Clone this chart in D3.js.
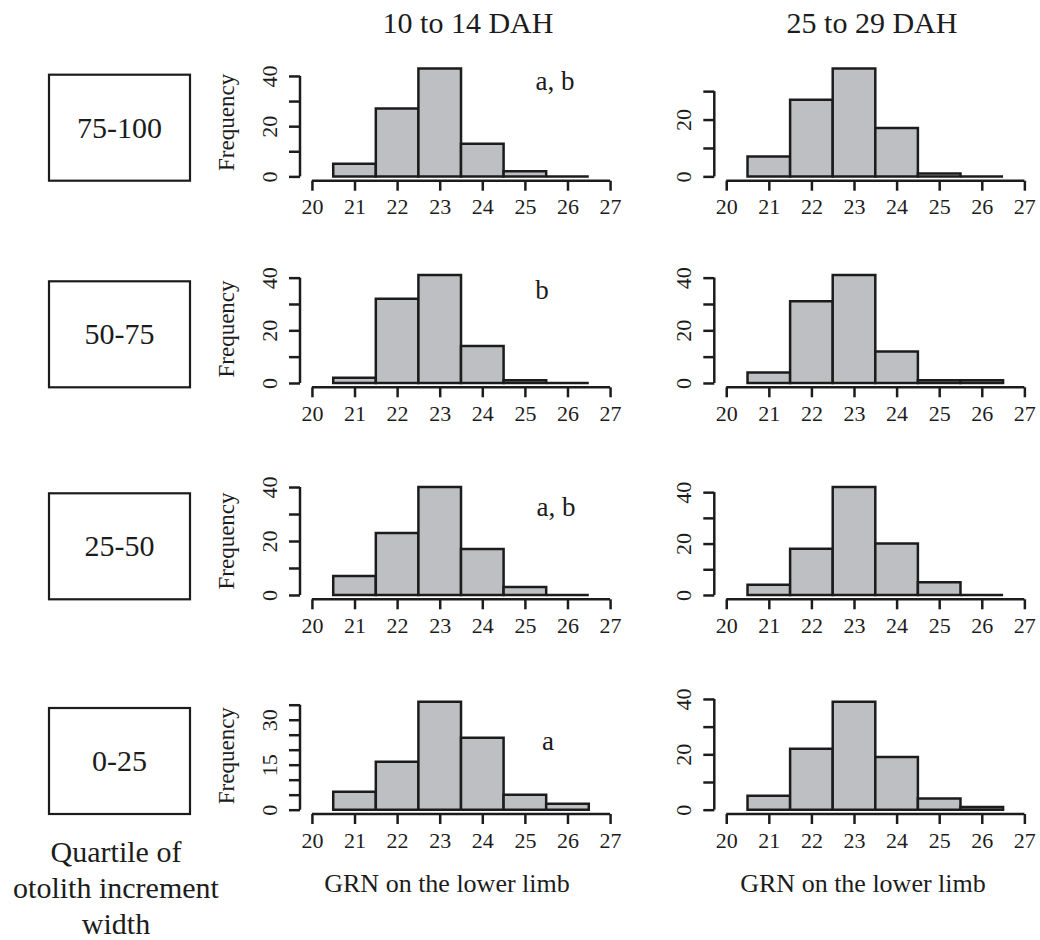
<!DOCTYPE html>
<html>
<head>
<meta charset="utf-8">
<script src="https://cdn.jsdelivr.net/npm/d3@7"></script>
<style>
body { margin: 0; background: #fff; }
svg { font-family: "Liberation Serif", "Times New Roman", serif; }
</style>
</head>
<body>
<svg id="chart" width="1040" height="940"></svg>
<script>
// histogram breaks and counts
var breaks = [20.5, 21.5, 22.5, 23.5, 24.5, 25.5, 26.5];
var quartiles = ["75-100", "50-75", "25-50", "0-25"];
var periods = ["10 to 14 DAH", "25 to 29 DAH"];
var early = [
    [5, 27, 43, 13, 2, 0],
    [2, 32, 41, 14, 1, 0],
    [7, 23, 40, 17, 3, 0],
    [6, 16, 36, 24, 5, 2]
];
var late = [
    [7, 27, 38, 17, 1, 0],
    [4, 31, 41, 12, 1, 1],
    [4, 18, 42, 20, 5, 0],
    [5, 22, 39, 19, 4, 1]
];
var letters = ["a, b", "b", "a, b", "a"];
var xTicks = [20, 21, 22, 23, 24, 25, 26, 27];
var earlyTickStep = [10, 10, 10, 5];
var earlyLabels = [[0, 20, 40], [0, 20, 40], [0, 20, 40], [0, 15, 30]];
var lateTickStep = [10, 10, 10, 10];
var lateLabels = [[0, 20], [0, 20, 40], [0, 20, 40], [0, 20, 40]];

// layout
var rowAxisY = [180.7, 387.3, 599.3, 814];
var colLeft = [300, 714.3];
var plotW = 322, plotH = 116.6;
var letterDy = [-90.7, -88.3, -83.6, -64];
var letterX = [555, 542, 556, 548];
var ink = "#1c1c1c";

var svg = d3.select("#chart");

function panel(g, counts, axisY, x0, tickStep, labels) {
    var M = d3.max(counts);
    var x = d3.scaleLinear().domain([19.72, 27.28]).range([x0, x0 + plotW]);
    var y = d3.scaleLinear().domain([-0.04 * M, 1.04 * M]).range([axisY, axisY - plotH]);

    var bins = counts.map(function (c, i) {
        return {x0: breaks[i], x1: breaks[i + 1], n: c};
    });

    g.selectAll("path.bar")
        .data(bins)
        .enter()
        .append("path")
        .attr("class", "bar")
        .attr("d", function (d) {
            return "M" + x(d.x0) + "," + y(0) + "V" + y(d.n) + "H" + x(d.x1) + "V" + y(0) + "Z";
        })
        .attr("fill", "#bebfc2")
        .attr("stroke", ink)
        .attr("stroke-width", 2.5)
        .attr("stroke-linejoin", "miter");

    // x axis
    var xa = g.append("g")
        .attr("transform", "translate(0," + axisY + ")")
        .call(d3.axisBottom(x).tickValues(xTicks).tickSize(10).tickPadding(8).tickSizeOuter(0));
    xa.select(".domain").attr("d", "M" + x(20) + ",0H" + x(27)).attr("stroke", ink).attr("stroke-width", 2.5);
    xa.selectAll(".tick line").attr("stroke", ink).attr("stroke-width", 2.5);
    xa.selectAll(".tick text")
        .attr("font-family", "Liberation Serif")
        .attr("font-size", 22)
        .attr("fill", ink)
        .attr("dy", "0.71em");

    // y axis
    var yTicks = d3.range(0, 1.04 * M + 1e-9, tickStep);
    var ya = g.append("g")
        .attr("transform", "translate(" + x0 + ",0)")
        .call(d3.axisLeft(y).tickValues(yTicks).tickSize(11).tickSizeOuter(0)
            .tickFormat(function (v) { return labels.indexOf(v) >= 0 ? v : ""; }));
    ya.select(".domain").attr("d", "M0," + y(0) + "V" + y(d3.max(yTicks))).attr("stroke", ink).attr("stroke-width", 2.5);
    ya.selectAll(".tick line").attr("stroke", ink).attr("stroke-width", 2.5);
    ya.selectAll(".tick text")
        .attr("font-family", "Liberation Serif")
        .attr("font-size", 22)
        .attr("fill", ink)
        .attr("x", 0)
        .attr("dy", null)
        .attr("text-anchor", "middle")
        .attr("dominant-baseline", "central")
        .attr("transform", "translate(-31,0) rotate(-90)");

    return {x: x, y: y};
}

quartiles.forEach(function (q, r) {
    var axisY = rowAxisY[r];
    var row = svg.append("g").attr("class", "row");

    // quartile box
    row.append("rect")
        .attr("x", 49).attr("y", axisY - 106)
        .attr("width", 141).attr("height", 106)
        .attr("fill", "none")
        .attr("stroke", ink)
        .attr("stroke-width", 2.2);
    row.append("text")
        .attr("x", 119.5).attr("y", axisY - 53 + 10)
        .attr("text-anchor", "middle")
        .attr("font-size", 30)
        .attr("fill", ink)
        .text(q);

    panel(row.append("g"), early[r], axisY, colLeft[0], earlyTickStep[r], earlyLabels[r]);
    panel(row.append("g"), late[r], axisY, colLeft[1], lateTickStep[r], lateLabels[r]);

    row.append("text")
        .attr("transform", "translate(226," + (axisY - plotH / 2) + ") rotate(-90)")
        .attr("text-anchor", "middle")
        .attr("dominant-baseline", "central")
        .attr("font-size", 23)
        .attr("fill", ink)
        .text("Frequency");

    row.append("text")
        .attr("x", letterX[r]).attr("y", axisY + letterDy[r])
        .attr("text-anchor", "middle")
        .attr("font-size", 27)
        .attr("fill", ink)
        .text(letters[r]);
});

// column titles
svg.selectAll("text.title")
    .data(periods)
    .enter()
    .append("text")
    .attr("class", "title")
    .attr("x", function (d, i) { return [468, 872][i]; })
    .attr("y", 33)
    .attr("text-anchor", "middle")
    .attr("font-size", 30)
    .attr("fill", ink)
    .text(function (d) { return d; });

// x axis titles
[447, 863].forEach(function (cx) {
    svg.append("text")
        .attr("x", cx).attr("y", 892)
        .attr("text-anchor", "middle")
        .attr("font-size", 26)
        .attr("fill", ink)
        .text("GRN on the lower limb");
});

// left label
var side = svg.append("text")
    .attr("text-anchor", "middle")
    .attr("font-size", 30)
    .attr("fill", ink);
["Quartile of", "otolith increment", "width"].forEach(function (line, i) {
    side.append("tspan").attr("x", 116).attr("y", 862 + i * 36).text(line);
});
</script>
</body>
</html>
